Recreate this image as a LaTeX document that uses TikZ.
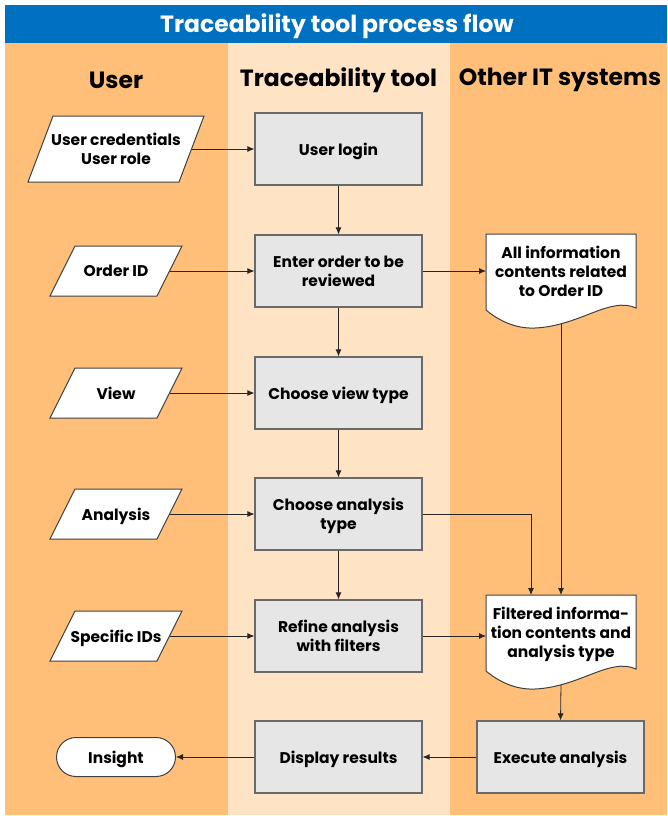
\documentclass[tikz,border=0pt]{standalone}
\usepackage{fontspec}
\setmainfont{Poppins}
\usetikzlibrary{arrows.meta,calc}
\definecolor{titleblue}{RGB}{0,112,192}
\definecolor{laneorange}{RGB}{255,191,120}
\definecolor{lanelight}{RGB}{255,227,197}
\definecolor{boxgray}{RGB}{230,230,230}
\definecolor{boxedge}{RGB}{105,105,105}

% input/output parallelogram: name, x, y, half width, half height, text
\newcommand\inputbox[6]{%
  \draw[outline] (#2-#4+25,#3-#5) -- (#2+#4,#3-#5) -- (#2+#4-25,#3+#5) -- (#2-#4,#3+#5) -- cycle;
  \node[txt] (#1) at (#2,#3) {#6};
  \coordinate (#1-e) at (#2+#4-12.5,#3);
}
% document shape with wavy bottom: name, x, top y, side bottom y, text
\newcommand\docbox[5]{%
  \draw[outline] (#2-75,#3) -- (#2+75,#3) -- (#2+75,#4)
    .. controls (#2+49,#4-12) and (#2+19,#4+18) .. (#2-26,#4+20)
    .. controls (#2-46,#4+21) and (#2-63,#4+12) .. (#2-75,#4+2) -- cycle;
  \node[txt] (#1) at (#2,{(#3+#4)/2}) {#5};
  \coordinate (#1-w) at (#2-75,{(#3+#4)/2});
  \coordinate (#1-n) at (#2,#3);
  \coordinate (#1-nl) at (#2-30,#3);
  \coordinate (#1-s) at (#2,#4+16);
}

\begin{document}
\begin{tikzpicture}[x=1pt,y=-1pt,
  txt/.style={align=center,inner sep=0pt,text depth=0pt,font=\bfseries\fontsize{15.5}{19}\selectfont},
  proc/.style={txt,draw=boxedge,line width=1.2pt,fill=boxgray,minimum width=167pt,minimum height=72pt},
  outline/.style={draw=black!75,line width=1pt,fill=white},
  flow/.style={draw=black!85,line width=0.8pt,-{Latex[length=7pt,width=6pt]}},
  header/.style={font=\bfseries\fontsize{23.5}{27}\selectfont}]

\useasboundingbox (0,0) rectangle (667,816);
\fill[white] (0,0) rectangle (667,816);

% title bar and swimlanes
\fill[titleblue] (5,5) rectangle (667,43);
\fill[laneorange] (5,43) rectangle (228,815);
\fill[lanelight] (228,43) rectangle (450,815);
\fill[laneorange] (450,43) rectangle (667,815);

\node[header,text=white] (title) at (337,26.5) {Traceability tool process flow};
\node[header] (hUser) at (116,80) {User};
\node[header] (hTool) at (338.5,80) {Traceability tool};
\node[header] (hIT) at (560,80) {Other IT systems};

% user inputs
\inputbox{cred}{116}{149}{88}{33}{User credentials\\User role}
\inputbox{orderid}{116}{271}{66}{25}{Order ID}
\inputbox{view}{116}{393}{66}{25}{View}
\inputbox{analysis}{116}{514}{66}{25}{Analysis}
\inputbox{ids}{116}{636}{66}{25}{Specific IDs}
\node[txt,draw=black!75,line width=1pt,fill=white,minimum width=119pt,minimum height=39pt,rounded corners=19.5pt] (insight) at (116,757) {Insight};

% tool steps
\node[proc] (login) at (338.5,149) {User login};
\node[proc] (enter) at (338.5,271) {Enter order to be\\reviewed};
\node[proc] (chview) at (338.5,393) {Choose view type};
\node[proc] (chanal) at (338.5,514) {Choose analysis\\type};
\node[proc] (refine) at (338.5,636) {Refine analysis\\with filters};
\node[proc] (display) at (338.5,757) {Display results};

% other IT systems
\docbox{allinfo}{561}{234}{308}{All information\\contents related\\to Order ID}
\docbox{filtered}{561}{595}{669}{Filtered informa-\\tion contents and\\analysis type}
\node[proc] (exec) at (560.5,757) {Execute analysis};

% connectors
\draw[flow] (cred-e) -- (login.west);
\draw[flow] (orderid-e) -- (enter.west);
\draw[flow] (view-e) -- (chview.west);
\draw[flow] (analysis-e) -- (chanal.west);
\draw[flow] (ids-e) -- (refine.west);
\draw[flow] (login.south) -- (enter.north);
\draw[flow] (enter.south) -- (chview.north);
\draw[flow] (chview.south) -- (chanal.north);
\draw[flow] (chanal.south) -- (refine.north);
\draw[flow] (enter.east) -- (allinfo-w);
\draw[flow] (chanal.east) -| (filtered-nl);
\draw[flow] (allinfo-s) -- (filtered-n);
\draw[flow] (refine.east) -- (refine.east -| filtered-w);
\draw[flow] (filtered-s) -- (exec.north);
\draw[flow] (exec.west) -- (display.east);
\draw[flow] (display.west) -- (insight.east);
\end{tikzpicture}
\end{document}
